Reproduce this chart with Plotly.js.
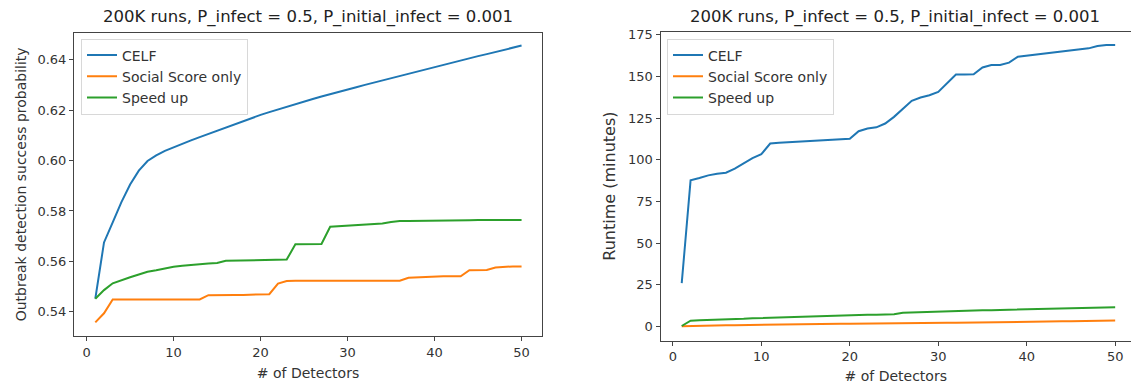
<!DOCTYPE html>
<html>
<head>
<meta charset="utf-8">
<script src="https://cdn.plot.ly/plotly-3.0.1.min.js"></script>
<style>html,body{margin:0;padding:0;background:#fff;}#chart{width:1131px;height:384px;}</style>
</head>
<body>
<div id="chart"></div>
<script>
// ---- data ----
const detectors = Array.from({length: 50}, (_, i) => i + 1);

const seriesNames = ["CELF", "Social Score only", "Speed up"];
const seriesColors = ["#1f77b4", "#ff7f0e", "#2ca02c"];

const probCELF = [
  0.5452, 0.5675, 0.5755, 0.5835, 0.5905, 0.5960, 0.5998, 0.6020, 0.6038, 0.6053,
  0.6067, 0.6080, 0.6093, 0.6106, 0.6119, 0.6132, 0.6145, 0.6157, 0.6169, 0.6181,
  0.6192, 0.6203, 0.6214, 0.6224, 0.6234, 0.6244, 0.6254, 0.6264, 0.6273, 0.6282,
  0.6291, 0.6300, 0.6309, 0.6318, 0.6327, 0.6336, 0.6345, 0.6354, 0.6363, 0.6371,
  0.6380, 0.6388, 0.6397, 0.6405, 0.6414, 0.6422, 0.6431, 0.6439, 0.6448, 0.6456
];
const probSocial = [
  0.5358, 0.5394, 0.5449, 0.5449, 0.5449, 0.5449, 0.5449, 0.5449, 0.5449, 0.5449,
  0.5449, 0.5449, 0.5449, 0.5466, 0.5467, 0.5467, 0.5467, 0.5467, 0.5467, 0.5468,
  0.5470, 0.5512, 0.5522, 0.5523, 0.5523, 0.5523, 0.5523, 0.5523, 0.5523, 0.5523,
  0.5523, 0.5523, 0.5523, 0.5523, 0.5523, 0.5523, 0.5535, 0.5537, 0.5540, 0.5541,
  0.5541, 0.5541, 0.5541, 0.5565, 0.5566, 0.5566, 0.5576, 0.5579, 0.5580, 0.5580
];
const probSpeed = [
  0.5452, 0.5486, 0.5513, 0.5526, 0.5537, 0.5548, 0.5559, 0.5565, 0.5572, 0.5579,
  0.5583, 0.5587, 0.5589, 0.5592, 0.5594, 0.5602, 0.5603, 0.5604, 0.5604, 0.5605,
  0.5605, 0.5606, 0.5607, 0.5668, 0.5668, 0.5668, 0.5669, 0.5737, 0.5739, 0.5741,
  0.5743, 0.5744, 0.5746, 0.5750, 0.5756, 0.5760, 0.5760, 0.5760, 0.5760, 0.5761,
  0.5763, 0.5763, 0.5763, 0.5763, 0.5764, 0.5764, 0.5764, 0.5764, 0.5764, 0.5764
];

const runCELF = [
  26.0, 87.7, 89.1, 90.7, 91.7, 92.3, 94.7, 97.7, 101.1, 103.4,
  109.8, 110.2, 110.5, 110.6, 110.8, 111.0, 111.3, 111.8, 112.0, 112.6,
  117.2, 118.8, 119.5, 121.8, 125.8, 130.8, 135.4, 137.4, 138.8, 140.8,
  145.8, 151.2, 151.2, 151.4, 155.4, 156.9, 156.9, 158.3, 161.9, 162.5,
  163.1, 163.9, 164.2, 165.1, 165.5, 166.3, 166.9, 168.3, 168.9, 168.9
];
const runSocial = [
  0.1, 0.3, 0.4, 0.5, 0.6, 0.7, 0.8, 0.9, 1.0, 1.1,
  1.1, 1.2, 1.2, 1.3, 1.4, 1.4, 1.5, 1.5, 1.6, 1.6,
  1.7, 1.7, 1.8, 1.8, 1.9, 2.0, 2.0, 2.1, 2.1, 2.2,
  2.3, 2.3, 2.4, 2.4, 2.5, 2.6, 2.6, 2.7, 2.7, 2.8,
  2.9, 2.9, 3.0, 3.1, 3.1, 3.2, 3.3, 3.4, 3.5, 3.6
];
const runSpeed = [
  0.3, 3.5, 3.7, 3.8, 3.9, 4.1, 4.3, 4.6, 4.9, 5.1,
  5.3, 5.4, 5.5, 5.7, 5.8, 6.0, 6.2, 6.4, 6.6, 6.8,
  7.0, 7.1, 7.1, 7.2, 7.3, 8.3, 8.5, 8.7, 8.9, 9.0,
  9.2, 9.3, 9.4, 9.6, 9.7, 9.8, 9.9, 10.0, 10.2, 10.3,
  10.4, 10.5, 10.6, 10.8, 10.9, 11.0, 11.2, 11.3, 11.4, 11.6
];

const leftYTicks = [0.54, 0.56, 0.58, 0.60, 0.62, 0.64];
const rightYTicks = [0, 25, 50, 75, 100, 125, 150, 175];
const xTicks = [0, 10, 20, 30, 40, 50];

const chartTitle = "200K runs, P_infect = 0.5, P_initial_infect = 0.001";
const xTitle = "# of Detectors";
const leftYTitle = "Outbreak detection success probability";
const rightYTitle = "Runtime (minutes)";

// ---- traces ----
const leftSeries = [probCELF, probSocial, probSpeed];
const rightSeries = [runCELF, runSocial, runSpeed];
const traces = [];
leftSeries.forEach((ys, i) => traces.push({
  x: detectors, y: ys, type: "scatter", mode: "lines", name: seriesNames[i],
  line: {color: seriesColors[i], width: 2}, xaxis: "x", yaxis: "y", legend: "legend"
}));
rightSeries.forEach((ys, i) => traces.push({
  x: detectors, y: ys, type: "scatter", mode: "lines", name: seriesNames[i],
  line: {color: seriesColors[i], width: 2}, xaxis: "x2", yaxis: "y2", legend: "legend2"
}));

const W = 1131, H = 384;
const FAM = "DejaVu Sans, sans-serif";
const axisCommon = {
  showgrid: false, zeroline: false, showline: true, linecolor: "#444", linewidth: 1,
  ticks: "outside", ticklen: 4, tickcolor: "#444", tickwidth: 1,
  tickfont: {family: FAM, size: 13, color: "#333"}
};
const legendCommon = {
  bgcolor: "rgba(255,255,255,0.9)", bordercolor: "#d8d8d8", borderwidth: 1,
  font: {family: FAM, size: 14, color: "#333"},
  xanchor: "left", yanchor: "top", tracegroupgap: 0, itemwidth: 30
};

const layout = {
  width: W, height: H, margin: {l: 0, r: 0, t: 0, b: 0},
  paper_bgcolor: "#fff", plot_bgcolor: "#fff", font: {family: FAM, size: 13, color: "#333"},
  xaxis: Object.assign({}, axisCommon, {
    domain: [74 / W, 542 / W], range: [-1.45, 52.35], tickvals: xTicks, mirror: true,
    anchor: "y", title: {text: xTitle, font: {family: FAM, size: 14, color: "#333"}, standoff: 9}
  }),
  yaxis: Object.assign({}, axisCommon, {
    domain: [(H - 336) / H, (H - 32.7) / H], range: [0.5304, 0.6507], tickvals: leftYTicks,
    tickformat: ".2f", mirror: true, anchor: "x",
    title: {text: leftYTitle, font: {family: FAM, size: 14, color: "#333"}, standoff: 7}
  }),
  xaxis2: Object.assign({}, axisCommon, {
    domain: [660.5 / W, 1], range: [-1.40, 51.79], tickvals: xTicks, mirror: true,
    anchor: "y2", title: {text: xTitle, font: {family: FAM, size: 14, color: "#333"}, standoff: 9}
  }),
  yaxis2: Object.assign({}, axisCommon, {
    domain: [(H - 340.5) / H, (H - 31.7) / H], range: [-8.4, 176.9], tickvals: rightYTicks,
    mirror: false, anchor: "x2",
    title: {text: rightYTitle, font: {family: FAM, size: 16, color: "#333"}, standoff: 8}
  }),
  legend: Object.assign({}, legendCommon, {x: 81 / W, y: 1 - 38.5 / H}),
  legend2: Object.assign({}, legendCommon, {x: 667 / W, y: 1 - 38.5 / H}),
  annotations: [
    {text: chartTitle, xref: "paper", yref: "paper", x: 308 / W, y: 1 - 17 / H,
     xanchor: "center", yanchor: "middle", showarrow: false,
     font: {family: FAM, size: 16.5, color: "#222"}},
    {text: chartTitle, xref: "paper", yref: "paper", x: 895 / W, y: 1 - 17 / H,
     xanchor: "center", yanchor: "middle", showarrow: false,
     font: {family: FAM, size: 16.5, color: "#222"}}
  ]
};

Plotly.newPlot("chart", traces, layout, {displayModeBar: false, staticPlot: true});
</script>
</body>
</html>
